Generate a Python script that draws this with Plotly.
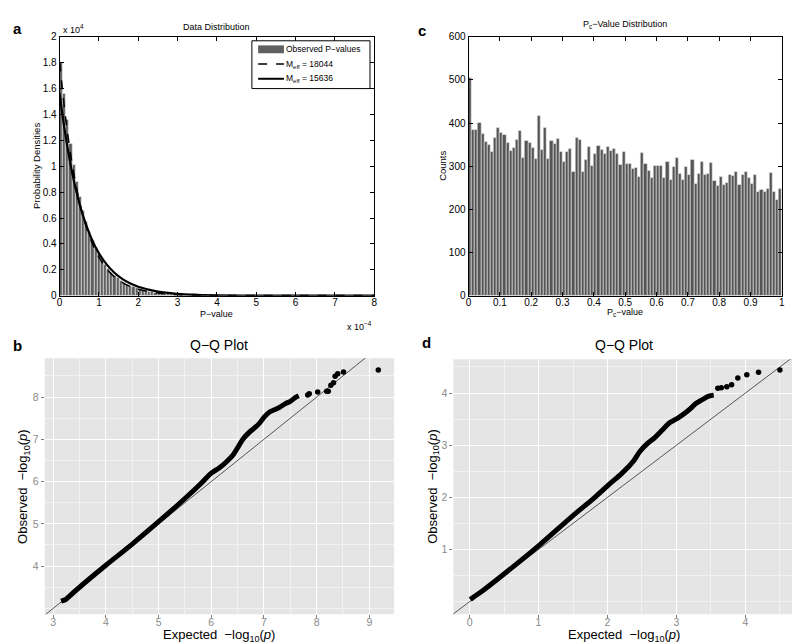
import plotly.graph_objects as go

# ---- panel a: P-value histogram (x in 1e-4, y in 1e4) ----
p_bin_w = 0.08
p_density = [1.80, 1.56, 1.36, 1.17, 1.01, 0.88, 0.76, 0.655, 0.57, 0.49,
             0.425, 0.37, 0.32, 0.275, 0.24, 0.205, 0.18, 0.155, 0.135, 0.115,
             0.10, 0.087, 0.075, 0.065, 0.057, 0.049, 0.042, 0.037, 0.032, 0.027,
             0.024, 0.021, 0.018, 0.015, 0.013, 0.012, 0.010, 0.009, 0.008, 0.007,
             0.006, 0.005, 0.0045, 0.004, 0.0035, 0.003, 0.0025, 0.002, 0.002, 0.0015,
             0.0015, 0.001, 0.001, 0.001, 0.0008, 0.0008, 0.0006, 0.0005]
curve_x = [0, 0.1, 0.2, 0.3, 0.4, 0.5, 0.6, 0.8, 1.0, 1.2, 1.4, 1.6, 1.8, 2.0,
           2.5, 3.0, 3.5, 4.0, 5.0, 6.0, 7.0, 8.0]
m18044 = [1.804, 1.507, 1.258, 1.050, 0.877, 0.732, 0.611, 0.426, 0.297, 0.207, 0.144,
          0.101, 0.070, 0.049, 0.020, 0.008, 0.003, 0.0013, 0.0002, 0, 0, 0]
m15636 = [1.564, 1.337, 1.144, 0.978, 0.837, 0.715, 0.612, 0.448, 0.327, 0.240, 0.175,
          0.128, 0.094, 0.069, 0.031, 0.014, 0.0066, 0.003, 0.0006, 0.0001, 0, 0]
legend_labels = ["Observed P\u2212values", "M<sub>eff</sub> = 18044", "M<sub>eff</sub> = 15636"]

# ---- panel c: Pc-value counts, 100 bins on [0, 1] ----
pc_bin_w = 0.01
pc_counts = [505, 385, 385, 400, 375, 357, 350, 333, 367, 390,
             378, 372, 355, 335, 342, 362, 383, 320, 360, 355,
             342, 318, 418, 337, 390, 318, 360, 352, 363, 333,
             310, 333, 340, 287, 365, 362, 287, 315, 345, 302,
             328, 348, 337, 328, 346, 335, 340, 328, 303, 333,
             305, 305, 293, 296, 275, 330, 305, 290, 272, 302,
             302, 302, 273, 310, 268, 298, 320, 283, 268, 298,
             280, 315, 260, 282, 310, 280, 283, 308, 265, 255,
             275, 258, 262, 280, 278, 288, 256, 280, 288, 272,
             260, 280, 240, 245, 240, 247, 285, 240, 222, 248]

# ---- panel b: Q-Q plot ----
b_exp = [3.15, 3.25, 3.3, 3.5, 4.0, 4.5, 5.0, 5.5, 5.8, 6.0, 6.15, 6.3, 6.42, 6.5, 6.6,
         6.7, 6.8, 6.9, 7.0, 7.1, 7.2, 7.3, 7.4, 7.5, 7.6, 7.66]
b_obs = [3.17, 3.22, 3.28, 3.5, 4.02, 4.52, 5.05, 5.6, 5.95, 6.2, 6.32, 6.48, 6.64, 6.8, 7.0,
         7.14, 7.25, 7.36, 7.52, 7.64, 7.7, 7.76, 7.84, 7.9, 7.99, 8.03]
b_tail_exp = [7.83, 7.86, 8.02, 8.19, 8.22, 8.27, 8.32, 8.35, 8.40, 8.51, 9.17]
b_tail_obs = [8.05, 8.08, 8.12, 8.14, 8.14, 8.28, 8.34, 8.49, 8.55, 8.59, 8.64]

# ---- panel d: Q-Q plot ----
d_exp = [0.01, 0.05, 0.2, 0.5, 1.0, 1.5, 1.8, 2.0, 2.2, 2.3, 2.38, 2.47, 2.57, 2.69, 2.78,
         2.90, 3.02, 3.13, 3.21, 3.28, 3.37, 3.47, 3.54]
d_obs = [0.04, 0.08, 0.22, 0.53, 1.07, 1.65, 1.98, 2.22, 2.45, 2.58, 2.7, 2.88, 3.02, 3.15,
         3.27, 3.43, 3.52, 3.62, 3.71, 3.80, 3.87, 3.94, 3.96]
d_tail_exp = [3.60, 3.65, 3.73, 3.80, 3.89, 4.02, 4.19, 4.50]
d_tail_obs = [4.09, 4.10, 4.12, 4.16, 4.29, 4.35, 4.40, 4.44]

FONT = "Liberation Sans, Arial, sans-serif"
W, H = 800, 644


def px(x):
    return x / W


def py(y):
    return 1 - y / H


fig = go.Figure()

# panel a
fig.add_trace(go.Bar(
    x=[(i + 0.5) * p_bin_w for i in range(len(p_density))], y=p_density,
    width=p_bin_w, marker=dict(color="#5f5f5f", line=dict(color="#eeeeee", width=0.6)),
    showlegend=False, xaxis="x", yaxis="y"))
fig.add_trace(go.Scatter(
    x=curve_x, y=m18044, mode="lines", line=dict(color="black", width=1.6, dash="dash", shape="spline"),
    showlegend=False, xaxis="x", yaxis="y"))
fig.add_trace(go.Scatter(
    x=curve_x, y=m15636, mode="lines", line=dict(color="black", width=2.2, shape="spline"),
    showlegend=False, xaxis="x", yaxis="y"))

# panel c
fig.add_trace(go.Bar(
    x=[(i + 0.5) * pc_bin_w for i in range(len(pc_counts))], y=pc_counts,
    width=pc_bin_w, marker=dict(color="#555555", line=dict(color="#eeeeee", width=0.6)),
    showlegend=False, xaxis="x2", yaxis="y2"))

# panel b
fig.add_trace(go.Scatter(x=[2.8, 9.5], y=[2.8, 9.5], mode="lines",
                         line=dict(color="#555555", width=1), showlegend=False,
                         xaxis="x3", yaxis="y3"))
fig.add_trace(go.Scatter(x=b_exp, y=b_obs, mode="lines",
                         line=dict(color="black", width=5, shape="spline"), showlegend=False,
                         xaxis="x3", yaxis="y3"))
fig.add_trace(go.Scatter(x=b_tail_exp, y=b_tail_obs, mode="markers",
                         marker=dict(color="black", size=5.5), showlegend=False,
                         xaxis="x3", yaxis="y3"))

# panel d
fig.add_trace(go.Scatter(x=[-0.3, 4.8], y=[-0.3, 4.8], mode="lines",
                         line=dict(color="#555555", width=1), showlegend=False,
                         xaxis="x4", yaxis="y4"))
fig.add_trace(go.Scatter(x=d_exp, y=d_obs, mode="lines",
                         line=dict(color="black", width=5, shape="spline"), showlegend=False,
                         xaxis="x4", yaxis="y4"))
fig.add_trace(go.Scatter(x=d_tail_exp, y=d_tail_obs, mode="markers",
                         marker=dict(color="black", size=5.5), showlegend=False,
                         xaxis="x4", yaxis="y4"))

matlab_ax = dict(showline=True, linecolor="black", linewidth=1, mirror="ticks",
                 ticks="inside", ticklen=4, tickcolor="black", showgrid=False,
                 zeroline=False, tickfont=dict(size=10, color="black"))
gg_ax = dict(showline=False, ticks="outside", ticklen=3, tickcolor="#7f7f7f",
             showgrid=True, gridcolor="white", gridwidth=1.2, zeroline=False,
             tickfont=dict(size=10.5, color="#8a8a8a"),
             minor=dict(showgrid=True, gridcolor="#f2f2f2", gridwidth=0.6, dtick=0.5))

a_yticks = [i * 0.2 for i in range(11)]
a_ylabels = ["0", "0.2", "0.4", "0.6", "0.8", "1", "1.2", "1.4", "1.6", "1.8", "2"]
c_xticks = [i * 0.1 for i in range(11)]
c_xlabels = ["0", "0.1", "0.2", "0.3", "0.4", "0.5", "0.6", "0.7", "0.8", "0.9", "1"]

fig.update_layout(
    width=W, height=H, margin=dict(l=0, r=0, t=0, b=0),
    paper_bgcolor="white", plot_bgcolor="white",
    font=dict(family=FONT, color="black", size=10),
    bargap=0, showlegend=False,
    xaxis=dict(matlab_ax, domain=[px(49), px(366)], range=[0, 8], dtick=1, anchor="y",
               ticklabelstandoff=-3),
    yaxis=dict(matlab_ax, domain=[py(287), py(23.3)], range=[0, 2],
               tickvals=a_yticks, ticktext=a_ylabels, anchor="x"),
    xaxis2=dict(matlab_ax, domain=[px(461), px(776.7)], range=[0, 1],
                tickvals=c_xticks, ticktext=c_xlabels, anchor="y2", ticklabelstandoff=-3),
    yaxis2=dict(matlab_ax, domain=[py(287), py(23.3)], range=[0, 600], dtick=100, anchor="x2"),
    xaxis3=dict(gg_ax, domain=[px(34), px(386)], range=[2.84, 9.47], dtick=1, anchor="y3",
                ticklabelstandoff=-5),
    yaxis3=dict(gg_ax, domain=[py(611.7), py(350.7)], range=[2.86, 8.92], dtick=1,
                tickvals=[4, 5, 6, 7, 8], anchor="x3"),
    xaxis4=dict(gg_ax, domain=[px(445.7), px(790)], range=[-0.235, 4.72], dtick=1, anchor="y4",
                ticklabelstandoff=-5),
    yaxis4=dict(gg_ax, domain=[py(611.7), py(351.7)], range=[-0.243, 4.65],
                tickvals=[1, 2, 3, 4], anchor="x4"),
    shapes=[
        dict(type="rect", xref="x3 domain", yref="y3 domain", x0=0, x1=1, y0=0, y1=1,
             fillcolor="#e5e5e5", line=dict(width=0), layer="below"),
        dict(type="rect", xref="x4 domain", yref="y4 domain", x0=0, x1=1, y0=0, y1=1,
             fillcolor="#e5e5e5", line=dict(width=0), layer="below"),
        # legend box of panel a
        dict(type="rect", xref="paper", yref="paper", x0=px(242.7), x1=px(361.7),
             y0=py(76), y1=py(27.3), fillcolor="white", line=dict(color="black", width=1)),
        dict(type="rect", xref="paper", yref="paper", x0=px(249), x1=px(275),
             y0=py(40), y1=py(32), fillcolor="#5f5f5f", line=dict(width=0)),
        dict(type="line", xref="paper", yref="paper", x0=px(249), x1=px(275),
             y0=py(51), y1=py(51), line=dict(color="black", width=1.5, dash="dash")),
        dict(type="line", xref="paper", yref="paper", x0=px(249), x1=px(275),
             y0=py(66), y1=py(66), line=dict(color="black", width=2)),
    ],
)

ann = [
    # panel letters
    dict(text="<b>a</b>", x=px(7), y=py(15)),
    dict(text="<b>c</b>", x=px(414), y=py(17)),
    dict(text="<b>b</b>", x=px(7), y=py(338)),
    dict(text="<b>d</b>", x=px(419), y=py(335)),
    # panel a
    dict(text="Data Distribution", x=px(207), y=py(13), font=dict(size=9)),
    dict(text="x 10<sup>4</sup>", x=px(50), y=py(15), xanchor="left", font=dict(size=9)),
    dict(text="Probability Densities", x=px(25), y=py(155), textangle=-90, font=dict(size=9.5)),
    dict(text="P\u2212value", x=px(207), y=py(306), font=dict(size=9)),
    dict(text="x 10<sup>\u22124</sup>", x=px(366), y=py(318), xanchor="right", font=dict(size=9)),
    # panel c
    dict(text="P<sub>c</sub>\u2212Value Distribution", x=px(619), y=py(11), font=dict(size=9)),
    dict(text="Counts", x=px(434), y=py(155), textangle=-90, font=dict(size=9.5)),
    dict(text="P<sub>c</sub>\u2212value", x=px(619), y=py(304), font=dict(size=9)),
    # panel b
    dict(text="Q\u2212Q Plot", x=px(210), y=py(337), font=dict(size=14)),
    dict(text="Expected  \u2212log<sub>10</sub>(<i>p</i>)", x=px(210), y=py(633), font=dict(size=13)),
    dict(text="Observed  \u2212log<sub>10</sub>(<i>p</i>)", x=px(12), y=py(481), textangle=-90,
         font=dict(size=13)),
    # panel d
    dict(text="Q\u2212Q Plot", x=px(618), y=py(337), font=dict(size=14)),
    dict(text="Expected  \u2212log<sub>10</sub>(<i>p</i>)", x=px(618), y=py(633), font=dict(size=13)),
    dict(text="Observed  \u2212log<sub>10</sub>(<i>p</i>)", x=px(425), y=py(481), textangle=-90,
         font=dict(size=13)),
]
# legend entries of panel a
for lbl, yy in zip(legend_labels, [36, 51, 66]):
    ann.append(dict(text=lbl, x=px(275), y=py(yy), xanchor="left", font=dict(size=8.5)))

for a in ann:
    a.setdefault("font", dict(size=15))
    a.setdefault("xanchor", "center")
    fig.add_annotation(xref="paper", yref="paper", showarrow=False, yanchor="middle", **a)

fig.write_html("out.html")
